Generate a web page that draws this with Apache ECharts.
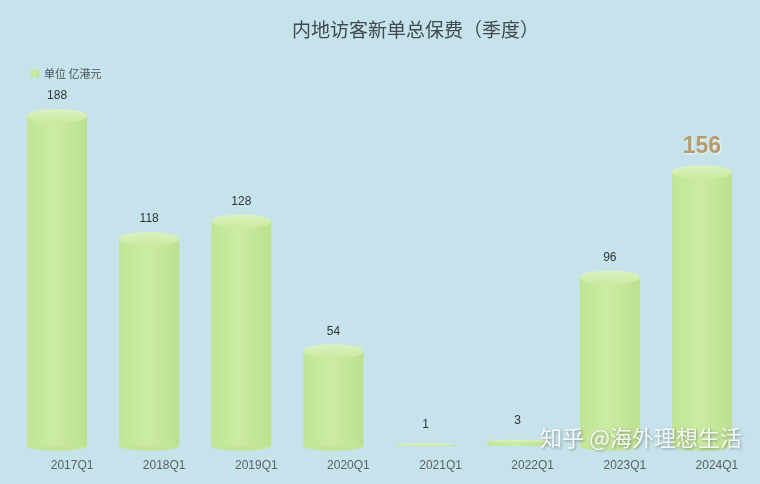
<!DOCTYPE html>
<html><head><meta charset="utf-8">
<script src="https://cdn.jsdelivr.net/npm/echarts@6/dist/echarts.min.js"></script>
<style>html,body{margin:0;padding:0;background:#c6e3eb;}#c{width:760px;height:484px;}</style>
</head><body><div id="c"></div>
<script>
var categories = ['2017Q1','2018Q1','2019Q1','2020Q1','2021Q1','2022Q1','2023Q1','2024Q1'];
var values = [188, 118, 128, 54, 1, 3, 96, 156];
var seriesName = '单位 亿港元';
var titleText = '内地访客新单总保费（季度）';
var watermark = '知乎 @海外理想生活';

var chart = echarts.init(document.getElementById('c'));
var barColor = new echarts.graphic.LinearGradient(0,0,1,0,[
  {offset:0,color:'#c0e494'},{offset:0.45,color:'#cbeca3'},{offset:1,color:'#bde08f'}]);
var barData = values.map(function(v,i){
  var d = {value:v};
  if (i === values.length-1) {
    d.label = {fontSize:23, fontWeight:'bold', color:'#b49c6c', distance:14,
      textShadowColor:'rgba(255,255,255,0.7)', textShadowBlur:2, textShadowOffsetX:1, textShadowOffsetY:1};
  }
  return d;
});
var topCaps = values.map(function(v){ return {value:v, symbolSize: v < 5 ? [60,3] : [60,14], symbolOffset: v < 5 ? [0,-1] : [0,-7]}; });
var bottomCaps = values.map(function(v){ return {value:v, symbolSize: v < 5 ? [60,2] : [60,10], symbolOffset: v < 5 ? [0,0] : [0,5]}; });
chart.setOption({
  backgroundColor:'#c6e3eb',
  title:{text:titleText, left:287, top:15, textStyle:{fontSize:19, fontWeight:'normal', color:'#3f4a4f', fontFamily:'Noto Sans CJK SC'}},
  legend:{data:[{name:seriesName, icon:'rect'}], left:26, top:63, itemWidth:8, itemHeight:8, itemGap:4,
    textStyle:{fontSize:11, color:'#4a5256', fontFamily:'Noto Sans CJK SC'}},
  grid:{left:11, right:12, top:95, bottom:38},
  xAxis:{type:'category', data:categories, axisLine:{show:false}, axisTick:{show:false},
    axisLabel:{color:'#5a6266', fontSize:12, margin:14, padding:[0,0,0,30], fontFamily:'Liberation Sans'}},
  yAxis:{type:'value', min:0, max:200, show:false, splitLine:{show:false}},
  series:[
    {name:seriesName, type:'bar', data:barData, barWidth:60, z:2,
      itemStyle:{color:barColor},
      label:{show:true, position:'top', distance:14, color:'#2f3538', fontSize:12, fontFamily:'Liberation Sans'}},
    {type:'pictorialBar', data:topCaps, symbol:'circle', symbolPosition:'end', z:3,
      itemStyle:{color:new echarts.graphic.LinearGradient(0,0,0,1,[{offset:0,color:'#dcf2c2'},{offset:1,color:'#c9ea9f'}])},
      legendHoverLink:false},
    {type:'pictorialBar', data:bottomCaps, symbol:'circle', symbolPosition:'start', z:1,
      itemStyle:{color:'#c4e598'}, legendHoverLink:false}
  ],
  graphic:[{type:'text', right:18, top:427, z:10, style:{text:watermark, fontSize:22, fill:'rgba(255,255,255,0.9)',
    fontFamily:'Noto Sans CJK SC', textShadowColor:'rgba(60,70,70,0.6)', textShadowBlur:3, textShadowOffsetX:1, textShadowOffsetY:1}}]
});
</script></body></html>
